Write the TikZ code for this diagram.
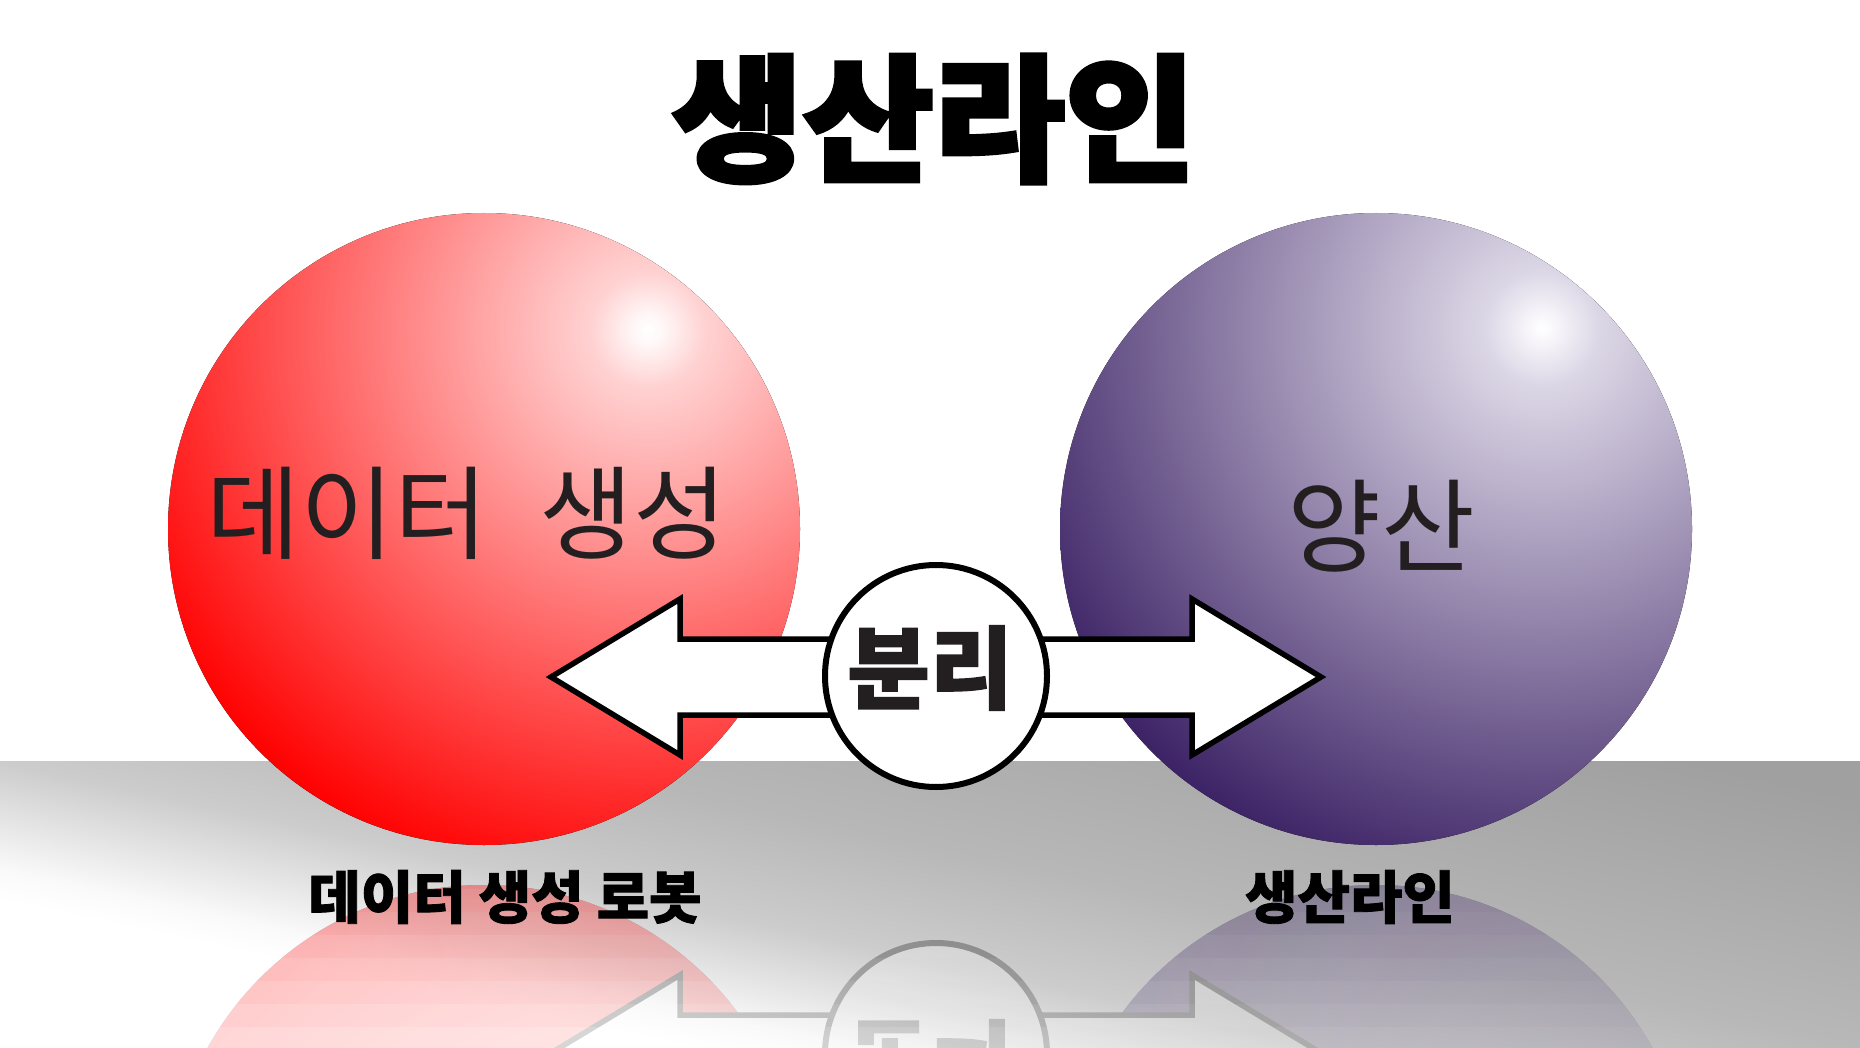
\documentclass[tikz,border=0pt]{standalone}
\usepackage{fontspec}
\newfontfamily\kr{Noto Sans CJK KR}
\newfontfamily\krheavy[BoldFeatures={FakeBold=3, FakeStretch=1.04}]{Noto Sans CJK KR}
\newfontfamily\krsemi[BoldFeatures={FakeBold=1.5}]{Noto Sans CJK KR}
\usetikzlibrary{calc}
\definecolor{ink}{HTML}{231F20}
\pgfdeclareradialshading{redsh}{\pgfpointorigin}{rgb(0bp)=(1,1,1); rgb(0.6bp)=(1,0.97,0.97); rgb(2.4bp)=(1,0.82,0.82); rgb(23.9bp)=(1,0,0); rgb(50bp)=(1,0,0)}
\pgfdeclareradialshading{purplesh}{\pgfpointorigin}{rgb(0bp)=(1,1,1); rgb(0.6bp)=(0.97,0.96,0.98); rgb(2.4bp)=(0.86,0.84,0.9); rgb(23.9bp)=(0.24,0.14,0.4); rgb(50bp)=(0.24,0.14,0.4)}
\pgfdeclareverticalshading{floorsh}{100bp}{rgb(0bp)=(1,1,1); rgb(36.7bp)=(1,1,1); rgb(38.8bp)=(0.98,0.98,0.98); rgb(46.4bp)=(0.8,0.8,0.8); rgb(54.2bp)=(0.72,0.72,0.72); rgb(71.6bp)=(0.627,0.627,0.627); rgb(100bp)=(0.627,0.627,0.627)}
\newcommand\drawscene[1]{%
  \begin{scope}
    \clip (484,529) circle (316pt);
    \fill[shading=redsh] (648,330) circle (600pt);
  \end{scope}
  \begin{scope}
    \clip (1376,529) circle (316pt);
    \fill[shading=purplesh] (1542,328) circle (600pt);
  \end{scope}
  \node[sphere] (red#1) at (484,529) {};
  \node[sphere] (purple#1) at (1376,529) {};
  \draw[blockarrow] (551,677) -- (680,599) -- (680,639) -- (1192,639) -- (1192,599)
     -- (1321,677) -- (1192,755) -- (1192,715) -- (680,715) -- (680,755) -- cycle;
  \node[sepcircle] (sep#1) at (936,676) {};
  \node[septext] (septext#1) at (930,668) {분리};
}
\begin{document}
\begin{tikzpicture}[x=1pt,y=-1pt,
  sphere/.style={circle, minimum size=632pt, inner sep=0pt},
  blockarrow/.style={draw=black, fill=white, line width=5.5pt, line join=miter},
  sepcircle/.style={circle, draw=black, fill=white, line width=6pt, minimum size=222pt, inner sep=0pt},
  septext/.style={font=\krsemi\bfseries\fontsize{90}{96}\selectfont, text=ink, inner sep=0pt},
  spheretext/.style={font=\kr\fontsize{102}{108}\selectfont, text=ink, inner sep=0pt},
  captiontext/.style={font=\krsemi\bfseries\fontsize{57}{62}\selectfont, text=black, inner sep=0pt},
  titletext/.style={font=\krheavy\bfseries\fontsize{137}{145}\selectfont, text=black, inner sep=0pt}]
\useasboundingbox (0,0) rectangle (1860,1048);
\fill[white] (0,0) rectangle (1860,1048);
% floor
\begin{scope}
  \clip (0,761) rectangle (1860,1048);
  \begin{scope}[transform canvas={rotate around={-12:(0,761)}}]
    \fill[shading=floorsh] (-200,361) rectangle (2100,1061);
  \end{scope}
\end{scope}
% reflection, fading downwards: stacked layers, each clipped from the top
\foreach \yb/\op in {1050/0.16, 1026/0.036, 1003/0.037, 980/0.0385, 957/0.04, 934/0.042, 911/0.0435, 888/0.0455}{
  \begin{scope}
    \clip (0,850) rectangle (1860,\yb);
    \begin{scope}[transparency group, opacity=\op, shift={(0,1730)}, yscale=-1, transform shape]
      \drawscene{R\yb}
    \end{scope}
  \end{scope}
}
% main scene
\drawscene{}
\node[spheretext] (redtext) at (467,513) {데이터\hspace{52pt}생성};
\node[spheretext] (purpletext) at (1381,526) {양산};
\node[captiontext] (redcap) at (505,897) {데이터 생성 로봇};
\node[captiontext] (purplecap) at (1350,897) {생산라인};
\node[titletext] (title) at (934,119) {생산라인};
\end{tikzpicture}
\end{document}
